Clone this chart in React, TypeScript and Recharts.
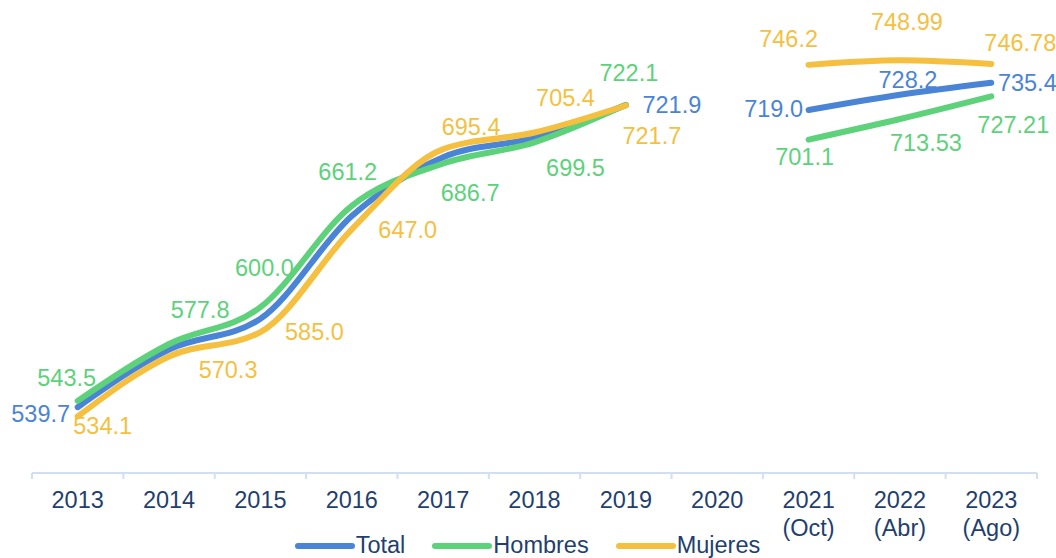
import { Legend, Line, LineChart, XAxis, YAxis } from 'recharts';

// categories and values (2020 has no data)
const years = ['2013', '2014', '2015', '2016', '2017', '2018', '2019', '2020', '2021\n(Oct)', '2022\n(Abr)', '2023\n(Ago)'];
const total = [539.7, 574.5, 593.0, 655.0, 690.5, 702.3, 721.9, null, 719.0, 728.2, 735.4];
const hombres = [543.5, 577.8, 600.0, 661.2, 686.7, 699.5, 722.1, null, 701.1, 713.53, 727.21];
const mujeres = [534.1, 570.3, 585.0, 647.0, 695.4, 705.4, 721.7, null, 746.2, 748.99, 746.78];

// label placement relative to each point (null = no label)
type Off = [number, number] | null;
const totalLabelPos: Off[] = [[-37, 7], null, null, null, null, null, [46, 0], null, [-35, -1], [8, -15], [36, 0]];
const hombresLabelPos: Off[] = [[-11, -23], [31, -34], [4, -39], [-4, -34], [27, 29], [41, 26], [3, -32], null, [-4, 17], [26, 24], [22, 29]];
const mujeresLabelPos: Off[] = [[25, 10], [59, 14], [54, 0], [56, 1], [28, -22], [31, -35], [26, 31], null, [-20, -26], [7, -38], [29, -21]];

const BLUE = '#4a84d6';
const GREEN = '#5dd27b';
const YELLOW = '#f5bf3f';
const NAVY = '#1f3f6f';
const FONT = '"Liberation Sans", Arial, sans-serif';
const FS = 23.5;

const data = years.map((year, i) => ({
  year,
  total: total[i],
  hombres: hombres[i],
  mujeres: mujeres[i],
}));

const series = [
  { key: 'total', name: 'Total', color: BLUE, pos: totalLabelPos },
  { key: 'hombres', name: 'Hombres', color: GREEN, pos: hombresLabelPos },
  { key: 'mujeres', name: 'Mujeres', color: YELLOW, pos: mujeresLabelPos },
];

const fmt = (v: number) => {
  const s = String(v);
  return s.includes('.') ? s : s + '.0';
};

const HALF_BAND = 45.7;

function YearTick(props: any) {
  const { x, y, payload, index } = props;
  const lines = String(payload.value).split('\n');
  return (
    <g>
      <line x1={x - HALF_BAND} x2={x - HALF_BAND} y1={y} y2={y + 6} stroke="#d3dff0" strokeWidth={2} />
      {index === years.length - 1 && (
        <line x1={x + HALF_BAND} x2={x + HALF_BAND} y1={y} y2={y + 6} stroke="#d3dff0" strokeWidth={2} />
      )}
      <text x={x} y={y + 35} textAnchor="middle" fill={NAVY} fontSize={FS} fontFamily={FONT}>
        {lines.map((l, i) => (
          <tspan key={i} x={x} dy={i === 0 ? 0 : 28}>
            {l}
          </tspan>
        ))}
      </text>
    </g>
  );
}

function makeLabel(color: string, pos: Off[]) {
  return (props: any) => {
    const { x, y, value, index } = props;
    const p = pos[index];
    if (value == null || !p) return null;
    return (
      <text
        key={index}
        x={x + p[0]}
        y={y + p[1]}
        textAnchor="middle"
        dominantBaseline="central"
        fill={color}
        fontSize={FS}
        fontFamily={FONT}
      >
        {fmt(value)}
      </text>
    );
  };
}

function LegendContent() {
  return (
    <div style={{ display: 'flex', justifyContent: 'center', height: 25, alignItems: 'center', paddingRight: 14 }}>
      {series.map((s, i) => (
        <div key={s.key} style={{ display: 'flex', alignItems: 'center', marginRight: i === series.length - 1 ? 0 : 27 }}>
          <svg width={61} height={10}>
            <line x1={3} x2={57} y1={5} y2={5} stroke={s.color} strokeWidth={6} strokeLinecap="round" />
          </svg>
          <span style={{ color: NAVY, fontSize: FS, fontFamily: FONT }}>{s.name}</span>
        </div>
      ))}
    </div>
  );
}

export default function App() {
  return (
    <div style={{ position: 'absolute', left: 0, top: 0, background: '#fff' }}>
      <LineChart width={1056} height={558} data={data} margin={{ top: 42, right: 19, bottom: 0, left: 32 }}>
        <XAxis
          dataKey="year"
          interval={0}
          padding={{ left: HALF_BAND, right: HALF_BAND }}
          height={60}
          tickSize={0}
          tickMargin={0}
          tickLine={false}
          axisLine={{ stroke: '#d3dff0', strokeWidth: 2 }}
          tick={<YearTick />}
        />
        <YAxis hide domain={[500, 760]} />
        <Legend verticalAlign="bottom" height={25} content={<LegendContent />} />
        {series.map((s) => (
          <Line
            key={s.key}
            dataKey={s.key}
            name={s.name}
            type="monotone"
            stroke={s.color}
            strokeWidth={6}
            strokeLinecap="round"
            dot={false}
            activeDot={false}
            isAnimationActive={false}
            label={makeLabel(s.color, s.pos)}
          />
        ))}
      </LineChart>
    </div>
  );
}
